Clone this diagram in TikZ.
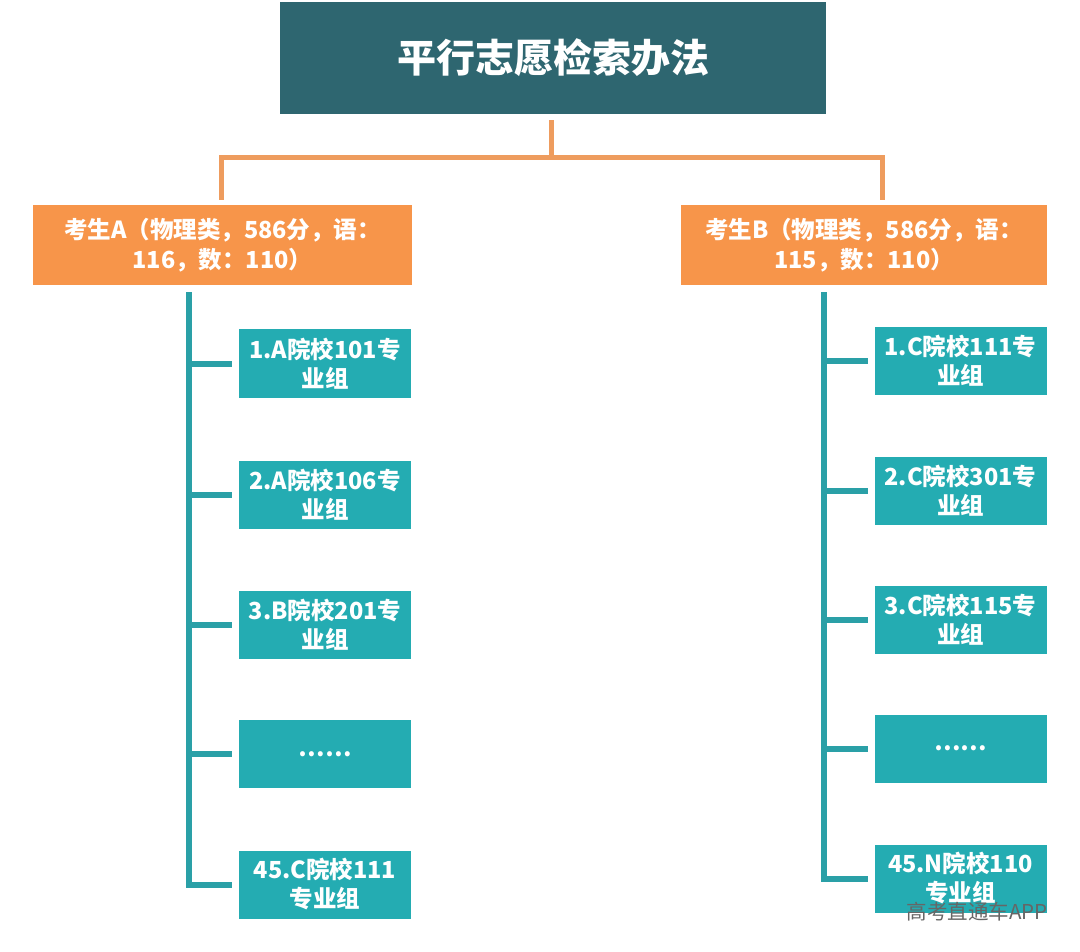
\documentclass[tikz,border=0pt]{standalone}
\usepackage{fontspec}
\newfontfamily\cjk{Noto Sans CJK SC}
\usetikzlibrary{calc}
\definecolor{titlebg}{HTML}{2E6670}
\definecolor{orangebg}{HTML}{F7954A}
\definecolor{orangeln}{HTML}{EE9C5E}
\definecolor{tealbg}{HTML}{24ACB2}
\definecolor{tealln}{HTML}{2AA0A7}
\definecolor{wmgray}{HTML}{666666}
\begin{document}
\begin{tikzpicture}[x=1pt,y=-1pt,
  titlebox/.style={fill=titlebg, text=white, font=\cjk\bfseries\fontsize{39}{46}\selectfont,
    minimum width=546pt, minimum height=112pt, inner sep=0pt},
  studbox/.style={fill=orangebg, text=white, font=\cjk\bfseries\fontsize{23.5}{30}\selectfont,
    minimum height=80pt, inner sep=0pt, align=center},
  choicebox/.style={fill=tealbg, text=white, font=\cjk\bfseries\fontsize{23.5}{29}\selectfont,
    minimum width=172pt, minimum height=68pt, inner sep=0pt, align=center},
  oline/.style={draw=orangeln, line width=5pt},
  tline/.style={draw=tealln, line width=6pt},
  wmark/.style={text=wmgray, font=\cjk\fontsize{20.5}{24}\selectfont, inner sep=0pt}
]
\useasboundingbox[fill=white] (0,0) rectangle (1080,952);

\node[titlebox] (title) at (553,58) {平行志愿检索办法};

\node[studbox, minimum width=379pt] (A) at (222.5,245) {考生A（物理类，586分，语：\\116，数：110）};
\node[studbox, minimum width=366pt] (B) at (864,245) {考生B（物理类，586分，语：\\115，数：110）};

\node[choicebox] (L1) at (325,363.5) {1.A院校101专\\业组};
\node[choicebox] (L2) at (325,495) {2.A院校106专\\业组};
\node[choicebox] (L3) at (325,624.5) {3.B院校201专\\业组};
\node[choicebox] (L4) at (325,754) {\raisebox{-4pt}{……}};
\node[choicebox] (L5) at (325,884.5) {45.C院校111\\专业组};

\node[choicebox] (R1) at (960.5,361) {1.C院校111专\\业组};
\node[choicebox] (R2) at (960.5,491) {2.C院校301专\\业组};
\node[choicebox] (R3) at (960.5,619.5) {3.C院校115专\\业组};
\node[choicebox] (R4) at (960.5,748.5) {\raisebox{-4pt}{……}};
\node[choicebox] (R5) at (960.5,878.5) {45.N院校110\\专业组};

\node[wmark] (wm) at (977,912) {高考直通车APP};

% orange connectors
\coordinate (j) at (551,158);
\coordinate (ja) at (221,158);
\coordinate (jb) at (882,158);
\draw[oline, shorten <=6pt] (title.south -| j) -- (j);
\draw[oline, shorten >=5pt] (ja) -- (ja |- A.north);
\draw[oline, shorten >=5pt] (jb) -- (jb |- B.north);
\draw[oline, line cap=rect] (ja) -- (jb);

% teal trees
\coordinate (tl) at (189,0);
\coordinate (tr) at (824,0);
\draw[tline, shorten <=7pt] (tl |- A.south) -- ($(tl |- L5.west)+(0,3)$);
\draw[tline, shorten <=7pt] (tr |- B.south) -- ($(tr |- R5.west)+(0,3)$);
\foreach \n in {1,...,5}{
  \draw[tline, shorten >=7pt] ($(tl |- L\n.west)+(-3,0)$) -- (L\n.west);
  \draw[tline, shorten >=6pt] ($(tr |- R\n.west)+(-3,0)$) -- (R\n.west);
}
\end{tikzpicture}
\end{document}
